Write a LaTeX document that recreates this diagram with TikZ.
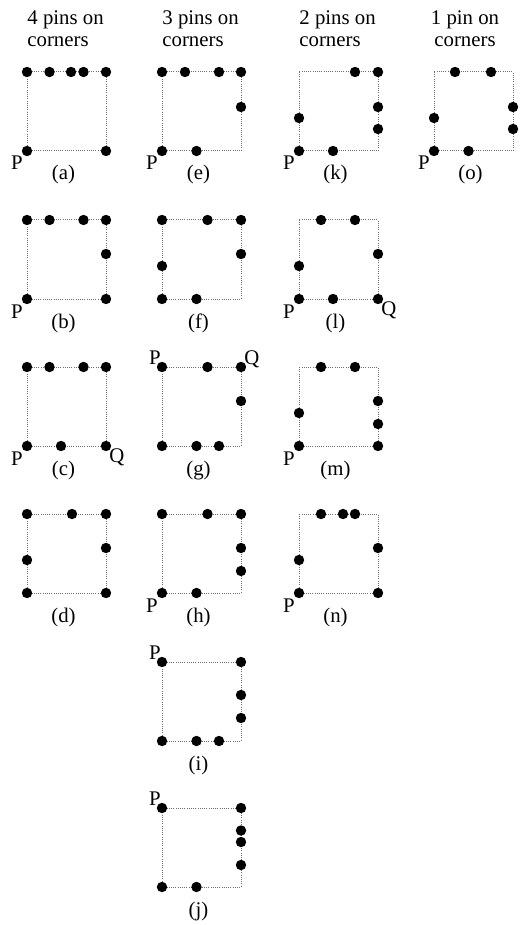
\documentclass[tikz,border=0pt]{standalone}
\usepackage{fontspec}
\setmainfont{Liberation Serif}
\usetikzlibrary{positioning}
\definecolor{EdgeGray}{HTML}{6E6E6E}
\tikzset{
  pin/.style={circle, fill=black, inner sep=0pt, minimum size=5.2pt},
  outline/.style={draw=EdgeGray, line width=0.5pt, dash pattern=on 0.5pt off 0.6pt},
  caption/.style={font=\fontsize{10.4}{11}\selectfont, inner sep=0pt},
  cornerlabel/.style={font=\fontsize{10.4}{11}\selectfont, inner sep=0pt}
}
% one panel: name, left, top, pins (x/y inside the square), caption
\newcommand{\pinpanel}[5]{%
  \begin{scope}[shift={(#2,#3)}]
    \coordinate (#1-tl) at (0,0);
    \coordinate (#1-tr) at (79,0);
    \coordinate (#1-bl) at (0,79);
    \coordinate (#1-br) at (79,79);
    \draw[outline] (#1-tl) rectangle (#1-br);
    \foreach \px/\py [count=\k] in {#4}
      \node[pin] (#1-\k) at (\px,\py) {};
    \node[caption, anchor=base] (#1-cap) at (36.5,108) {#5};
  \end{scope}}

\begin{document}
\begin{tikzpicture}[x=0.5pt, y=-0.5pt]
\useasboundingbox (0,0) rectangle (526,925);

% headings (base = last line)
\node[caption, anchor=base west, align=left] (head4) at (27,47) {4 pins on\\corners};
\node[caption, anchor=base west, align=left] (head3) at (162,47) {3 pins on\\corners};
\node[caption, anchor=base west, align=left] (head2) at (299,47) {2 pins on\\corners};
\node[caption, anchor=base, align=center] (head1) at (465,47) {1 pin on\\corners};

% 4 pins on corners
\pinpanel{a}{27}{72}{0/0, 22.5/0, 44/0, 56.5/0, 79/0, 0/79, 79/79}{(a)}
\pinpanel{b}{27}{220}{0/0, 22.5/0, 56.5/0, 79/0, 79/34, 0/79, 79/79}{(b)}
\pinpanel{c}{27}{367}{0/0, 22.5/0, 56.5/0, 79/0, 0/79, 34/79, 79/79}{(c)}
\pinpanel{d}{27}{514}{0/0, 45/0, 79/0, 79/34, 0/46, 0/79, 79/79}{(d)}

% 3 pins on corners
\pinpanel{e}{162}{72}{0/0, 23/0, 57/0, 79/0, 79/35, 0/79, 34.5/79}{(e)}
\pinpanel{f}{162}{220}{0/0, 45.5/0, 79/0, 79/34, 0/46, 0/79, 34.5/79}{(f)}
\pinpanel{g}{162}{367}{0/0, 45.5/0, 79/0, 79/34, 0/79, 34.5/79, 57/79}{(g)}
\pinpanel{h}{162}{514}{0/0, 45.5/0, 79/0, 79/34, 79/57, 0/79, 34.5/79}{(h)}
\pinpanel{i}{162}{662}{0/0, 79/0, 79/33, 79/56, 0/79, 34.5/79, 57/79}{(i)}
\pinpanel{j}{162}{808}{0/0, 79/0, 79/22.5, 79/34, 79/57, 0/79, 34.5/79}{(j)}

% 2 pins on corners
\pinpanel{k}{299}{72}{56/0, 79/0, 79/35, 79/57, 0/46, 0/79, 34/79}{(k)}
\pinpanel{l}{299}{220}{22/0, 56/0, 79/34, 0/46, 0/79, 34/79, 79/79}{(l)}
\pinpanel{m}{299}{367}{22/0, 56/0, 79/34, 79/57, 79/79, 0/46, 0/79}{(m)}
\pinpanel{n}{299}{514}{22/0, 44/0, 56/0, 79/34, 0/46, 0/79, 79/79}{(n)}

% 1 pin on corners
\pinpanel{o}{434}{72}{21/0, 57/0, 79/35, 79/57, 0/46, 0/79, 34.5/79}{(o)}

% P and Q marks
\foreach \pan in {a,b,c,e,h,k,l,m,n,o}
  \node[cornerlabel, anchor=base east] (\pan-P) at ([xshift=-2pt, yshift=-9.5pt]\pan-bl) {P};
\foreach \pan in {g,i,j}
  \node[cornerlabel, anchor=base east] (\pan-P) at ([xshift=-0.5pt, yshift=1.5pt]\pan-tl) {P};
\foreach \pan in {c,l}
  \node[cornerlabel, anchor=base west] (\pan-Q) at ([xshift=1.5pt, yshift=-8pt]\pan-br) {Q};
\node[cornerlabel, anchor=base west] (g-Q) at ([xshift=1.5pt, yshift=1.5pt]g-tr) {Q};
\end{tikzpicture}
\end{document}
